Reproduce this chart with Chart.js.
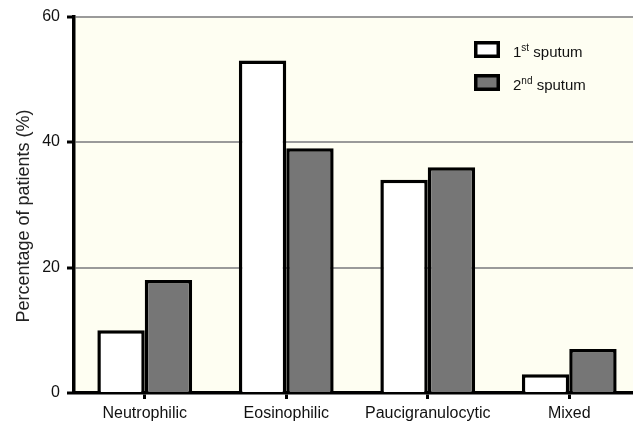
<!DOCTYPE html>
<html>
<head>
<meta charset="utf-8">
<script src="https://cdn.jsdelivr.net/npm/chart.js@4"></script>
<style>
  html, body { margin: 0; padding: 0; background: #fff; overflow: hidden; }
  #wrap { width: 645px; height: 422px; }
</style>
</head>
<body>
<div id="wrap"><canvas id="chart"></canvas></div>
<script>
const categories = ['Neutrophilic', 'Eosinophilic', 'Paucigranulocytic', 'Mixed'];
const firstSputum = [10, 53, 34, 3];
const secondSputum = [18, 39, 36, 7];
const yTicks = [0, 20, 40, 60];
const yTitle = 'Percentage of patients (%)';
// legend text split so the ordinal can be drawn as superscript
const legendNum = ['1', '2'];
const legendSup = ['st', 'nd'];
const legendTail = [' sputum', ' sputum'];

const font = 'Liberation Sans, Arial, sans-serif';

// cream plot background
const plotBg = {
    id: 'plotBg',
    beforeDraw(chart) {
        const a = chart.chartArea;
        const c = chart.ctx;
        c.save();
        c.fillStyle = '#fefef2';
        c.fillRect(a.left, a.top, a.right - a.left, a.bottom - a.top);
        c.restore();
    }
};

// y title drawn by hand, it sits a bit below the axis middle
const yTitlePlugin = {
    id: 'yTitlePlugin',
    afterDraw(chart) {
        const c = chart.ctx;
        c.save();
        c.translate(29, 216);
        c.rotate(-Math.PI / 2);
        c.font = '18px ' + font;
        c.fillStyle = '#222';
        c.textAlign = 'center';
        c.textBaseline = 'alphabetic';
        c.fillText(yTitle, 0, 0);
        c.restore();
    }
};

// legend with superscripts
const supLegend = {
    id: 'supLegend',
    afterDraw(chart) {
        const c = chart.ctx;
        c.save();
        chart.data.datasets.forEach((ds, i) => {
            const bx = 474, by = 41 + i * 33;
            c.fillStyle = ds.backgroundColor;
            c.fillRect(bx, by, 26, 17);
            c.lineWidth = 3.5;
            c.strokeStyle = '#000';
            c.strokeRect(bx + 1.75, by + 1.75, 22.5, 13.5);
            let x = 513;
            const y = by + 16;
            c.fillStyle = '#111';
            c.textBaseline = 'alphabetic';
            c.font = '15px ' + font;
            c.fillText(legendNum[i], x, y);
            x += c.measureText(legendNum[i]).width;
            c.font = '10px ' + font;
            c.fillText(legendSup[i], x, y - 6);
            x += c.measureText(legendSup[i]).width;
            c.font = '15px ' + font;
            c.fillText(legendTail[i], x, y);
        });
        c.restore();
    }
};

new Chart(document.getElementById('chart'), {
    type: 'bar',
    data: {
        labels: categories,
        datasets: [{
            label: '1st sputum',
            data: firstSputum,
            backgroundColor: '#ffffff',
            borderColor: '#000',
            borderWidth: 3.5,
            borderSkipped: 'bottom'
        }, {
            label: '2nd sputum',
            data: secondSputum,
            backgroundColor: '#767676',
            borderColor: '#000',
            borderWidth: 3.5,
            borderSkipped: 'bottom'
        }]
    },
    options: {
        responsive: true,
        maintainAspectRatio: false,
        animation: false,
        datasets: {
            bar: { categoryPercentage: 0.67, barPercentage: 1 }
        },
        layout: { padding: { top: 16, left: 0, right: 5, bottom: 0 } },
        plugins: {
            legend: { display: false },
            tooltip: { enabled: false }
        },
        scales: {
            y: {
                min: 0,
                max: 60,
                afterFit(s) { s.width = 74; },
                afterBuildTicks(s) { s.ticks = yTicks.map(v => ({ value: v })); },
                grid: {
                    color: '#9a9a9a',
                    lineWidth: 2,
                    tickColor: '#000',
                    tickLength: 7,
                    tickWidth: 3
                },
                border: { color: '#000', width: 3.5 },
                ticks: {
                    color: '#111',
                    padding: 7,
                    font: { family: font, size: 16 }
                }
            },
            x: {
                afterFit(s) { s.height = 29; },
                grid: {
                    offset: false,
                    drawOnChartArea: false,
                    tickColor: '#000',
                    tickLength: 6,
                    tickWidth: 3
                },
                border: { color: '#000', width: 3.5 },
                ticks: {
                    color: '#111',
                    padding: 5,
                    maxRotation: 0,
                    font: { family: font, size: 16 }
                }
            }
        }
    },
    plugins: [plotBg, yTitlePlugin, supLegend]
});
</script>
</body>
</html>
